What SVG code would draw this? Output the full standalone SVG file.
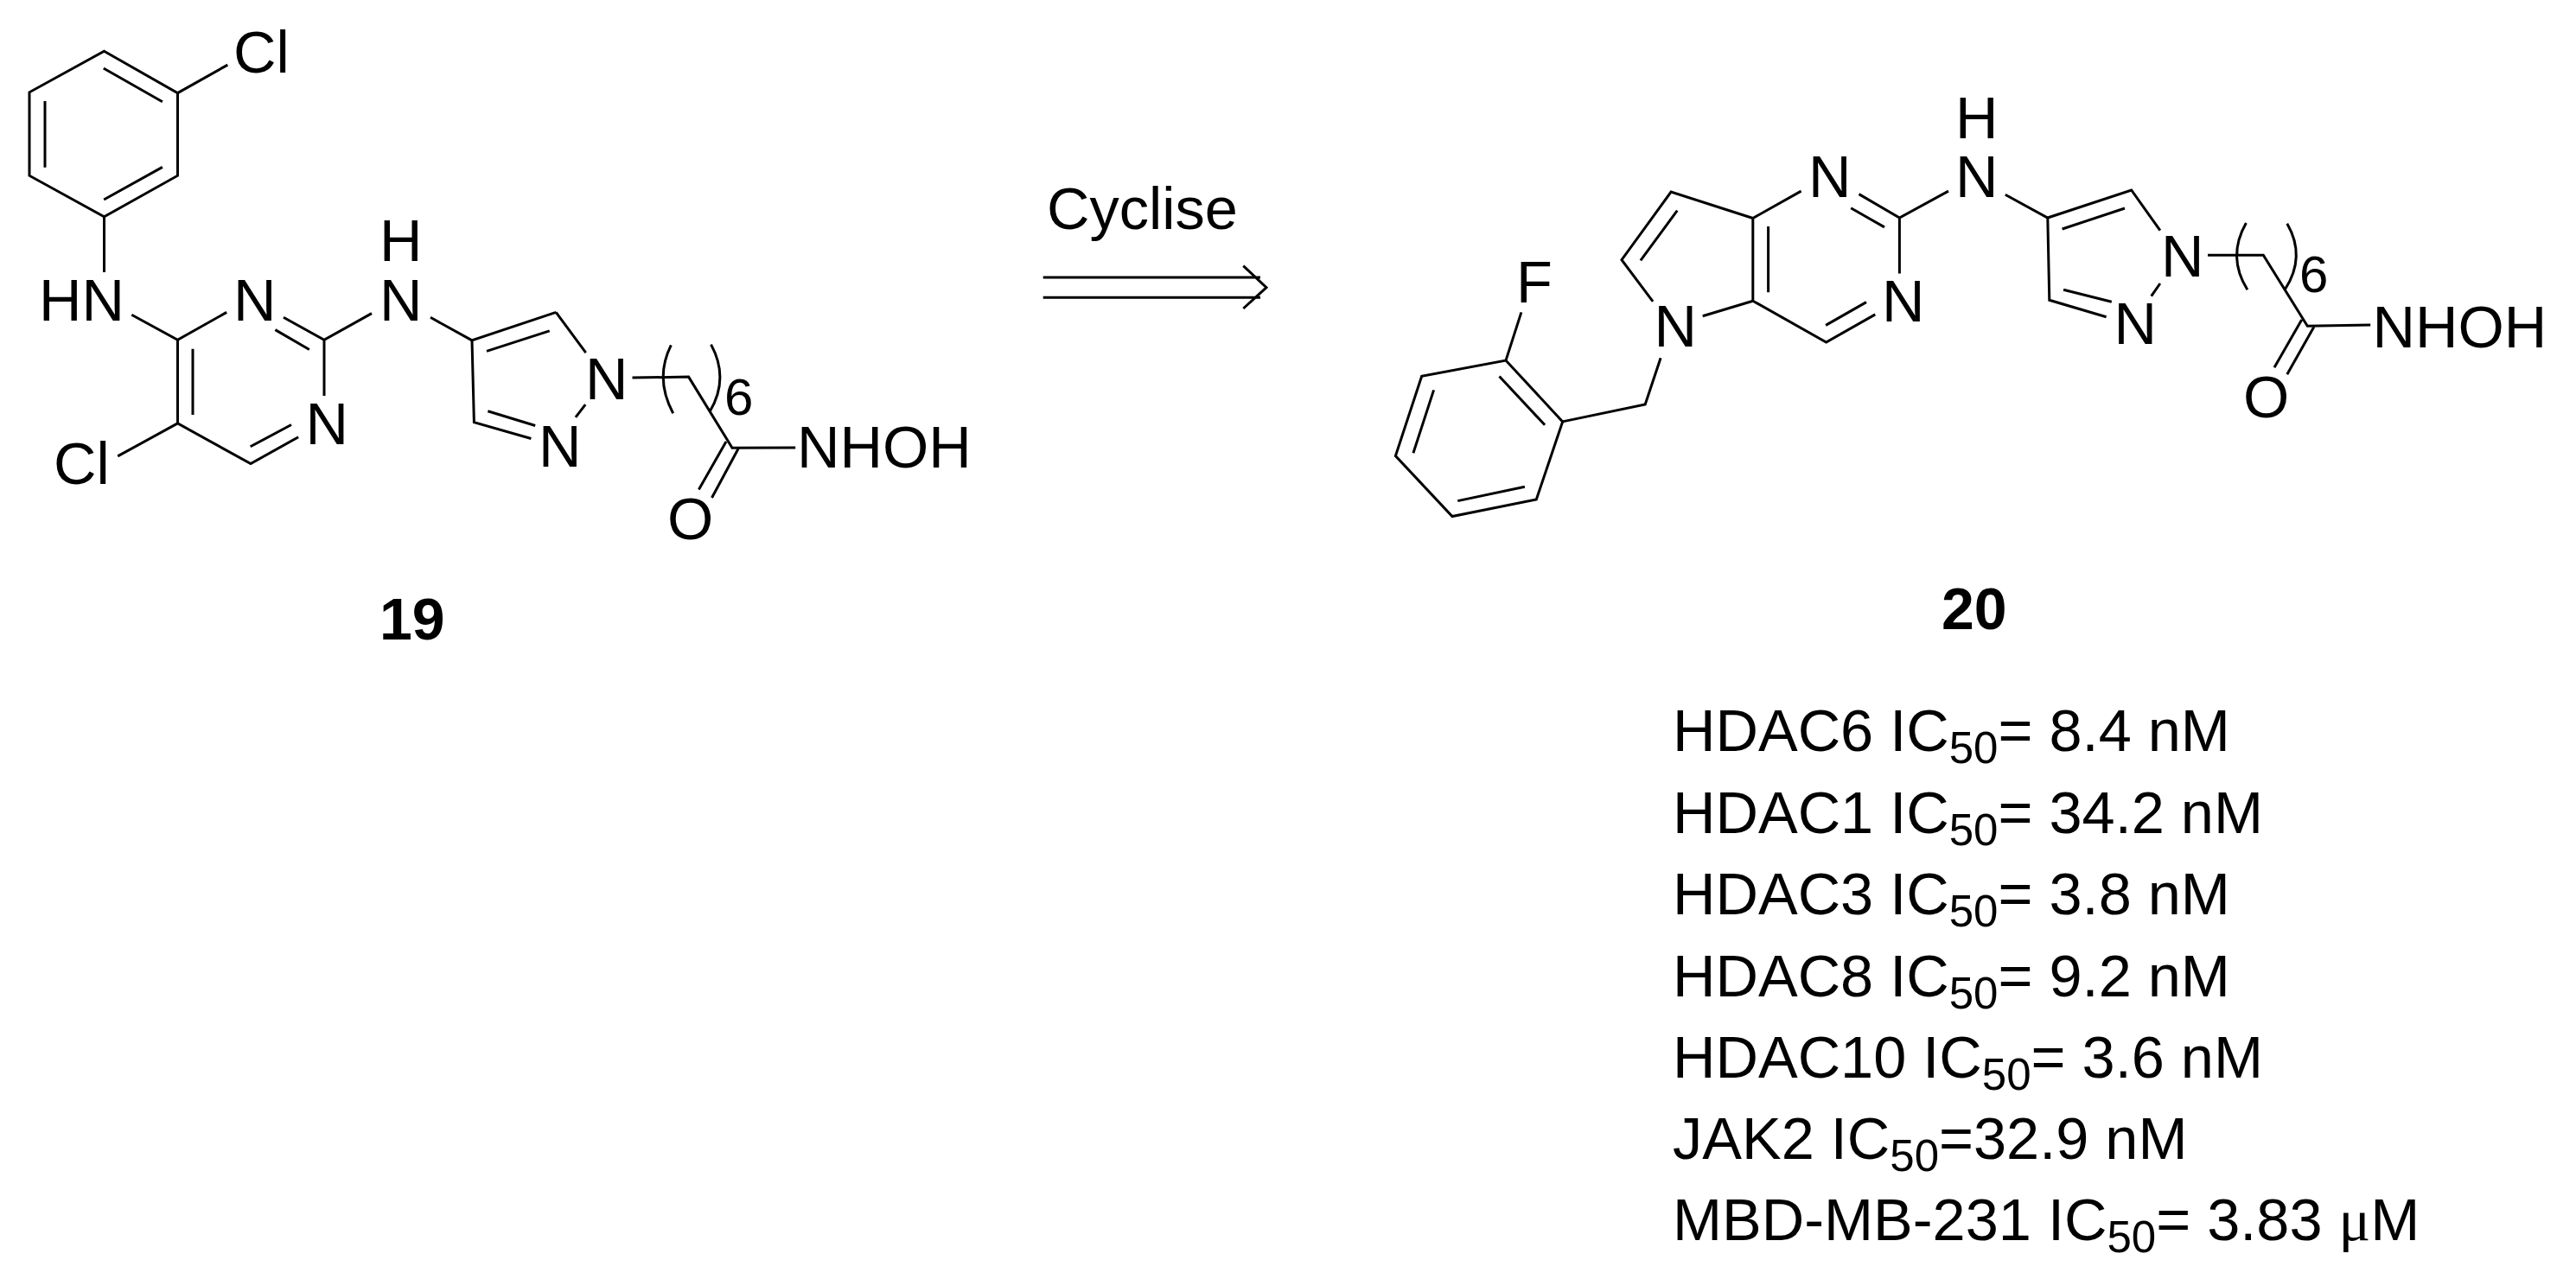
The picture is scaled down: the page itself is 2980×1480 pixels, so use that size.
<svg xmlns="http://www.w3.org/2000/svg" width="2980" height="1480" viewBox="0 0 2980 1480">
<style>
text{font-family:"Liberation Sans",Arial,sans-serif;font-size:68.5px;fill:#000}
.b{font-weight:bold;font-size:68px}
.s{font-size:51px}
.six{font-size:60px}
.u{font-family:"Liberation Serif",serif}
path{fill:none;stroke:#000;stroke-width:3;stroke-linecap:butt;stroke-linejoin:miter}
</style>
<rect width="2980" height="1480" fill="#fff"/>
<g id="compound-19">
<path d="M120.5 59.3L205.5 107.6V203.2L120.5 250.7L34 203.2V106.8Z"/>
<path d="M119.8 79L187.9 117.8M187.9 193.4L120.2 231M52 117V193.7"/>
<path d="M205.5 107.6L263.3 75.1M120.5 250.7V315M152.3 364.2L205.5 393.4L262.2 361.4M328 367.3L375 393.4L430 362.6M318.4 381.6L357.8 404.5M375 393.4V458"/>
<path d="M345.2 505.7L290 536.6L205.5 489.9V393.4M337 491.5L289.7 516.8M223 480V403.7M205.5 489.9L136.2 527.9M498 367.3L546 393.9"/>
<path d="M643.2 361.4L546 393.9L548.4 488.6L614.4 507.5M563 406.4L635.7 382.9M643.2 361.4L677.7 408.2M677.2 468.2L665.9 482.9M619.2 492.5L564.4 475.7"/>
<path d="M731.5 437.1L796.6 436.1L847 518.2L920.2 517.9M840 511L808.4 566.4M854.6 518.2L823.5 576"/>
<path d="M776.3 399.3Q757 438 778.7 478.2M822.5 398.6Q844 438 821 476.4"/>
<text x="270" y="84">Cl</text>
<text x="45" y="370.5">HN</text>
<text x="270" y="370.5">N</text>
<text x="439" y="301.5">H</text>
<text x="439" y="370.5">N</text>
<text x="353.6" y="513.6">N</text>
<text x="62" y="560">Cl</text>
<text x="677" y="462">N</text>
<text x="623" y="540.4">N</text>
<text x="838" y="480" class="six">6</text>
<text x="922" y="541.4">NHOH</text>
<text x="772" y="623.6">O</text>
<text x="439" y="740" class="b">19</text>
</g>
<g id="connectors">
<path d="M1206.7 321H1458M1206.7 344.3H1458M1438.3 307.7L1465 332.7L1438.3 357"/>
</g>
<g id="reaction-label">
<text x="1211" y="265">Cyclise</text>
</g>
<g id="compound-20">
<path d="M2027.8 252.5L2083.6 221.1M2150.5 224.6L2197.4 252.1L2254 221.1M2141.2 240.7L2180 262.9M2197.4 252.1V316.4"/>
<path d="M2169.3 363.9L2112.6 396.1L2027.8 348.2V252.5M2159 349.6L2112.1 376.4M2045.6 338.2V262.1M2027.8 348.2L1969.7 365.7"/>
<path d="M1912.1 348.9L1876 300.7L1933.1 222.1L2027.8 252.5M1897.9 301.4L1940.3 243.6"/>
<path d="M1921.1 414.3L1903.2 467.9L1807.7 487.9"/>
<path d="M1807.7 487.9L1742 417.1L1644.7 435.4L1614.4 527.5L1680 597.5L1777.3 577.9Z"/>
<path d="M1734.5 435.4L1787.1 491.8M1658.6 451.4L1634.9 524.3M1686.3 579.6L1763.9 563.2M1742 417.1L1759.9 361.4"/>
<path d="M2319.8 225.3L2368.8 252L2465.7 220L2498.9 266.7M2385.6 265L2458 241M2498.9 328L2488.7 342.7M2436.6 366.7L2370.8 347.3L2368.8 252M2442.8 349.3L2387.1 335.3"/>
<path d="M2554 295.3H2618.3L2669.3 377.3L2742.2 376M2662.7 370L2631 425.3M2677.4 377.3L2645.8 433.3"/>
<path d="M2598.4 258Q2576 297 2599.9 335.3M2645.8 258.7Q2668 297 2643.3 335"/>
<text x="2092" y="228.2">N</text>
<text x="2177" y="372.1">N</text>
<text x="1913.5" y="401.4">N</text>
<text x="1754" y="350.4">F</text>
<text x="2262" y="160.3">H</text>
<text x="2262" y="228.3">N</text>
<text x="2500" y="320">N</text>
<text x="2445.5" y="398.3">N</text>
<text x="2660" y="338.3" class="six">6</text>
<text x="2744.6" y="401.7">NHOH</text>
<text x="2595" y="483.3">O</text>
<text x="2246" y="728" class="b">20</text>
</g>
<g id="activity-data">
<text x="1935" y="869.3">HDAC6 IC<tspan class="s" dy="14">50</tspan><tspan dy="-14">= 8.4 nM</tspan></text>
<text x="1935" y="963.5">HDAC1 IC<tspan class="s" dy="14">50</tspan><tspan dy="-14">= 34.2 nM</tspan></text>
<text x="1935" y="1057.7">HDAC3 IC<tspan class="s" dy="14">50</tspan><tspan dy="-14">= 3.8 nM</tspan></text>
<text x="1935" y="1152.5">HDAC8 IC<tspan class="s" dy="14">50</tspan><tspan dy="-14">= 9.2 nM</tspan></text>
<text x="1935" y="1246.5">HDAC10 IC<tspan class="s" dy="14">50</tspan><tspan dy="-14">= 3.6 nM</tspan></text>
<text x="1935" y="1341">JAK2 IC<tspan class="s" dy="14">50</tspan><tspan dy="-14">=32.9 nM</tspan></text>
<text x="1935" y="1435">MBD-MB-231 IC<tspan class="s" dy="14">50</tspan><tspan dy="-14">= 3.83 </tspan><tspan class="u">μ</tspan>M</text>
</g>
</svg>
